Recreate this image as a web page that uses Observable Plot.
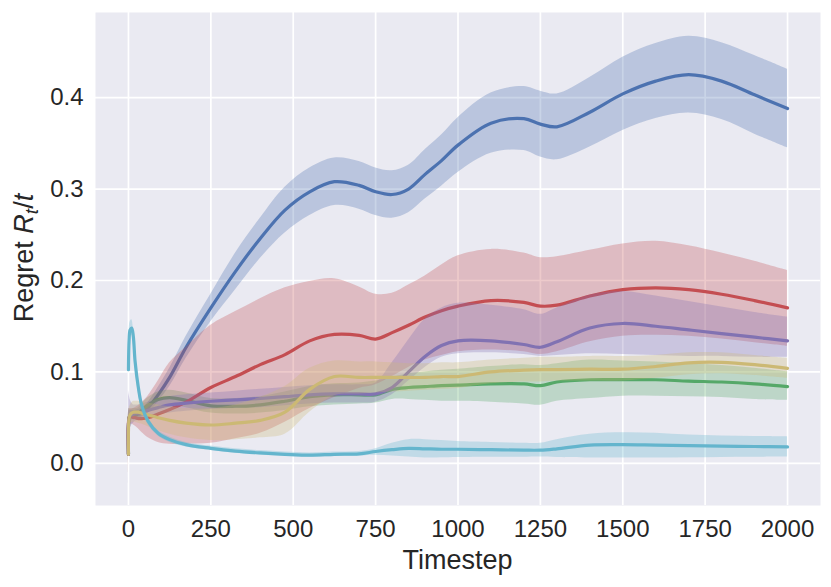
<!DOCTYPE html>
<html><head><meta charset="utf-8">
<script src="https://cdn.jsdelivr.net/npm/d3@7"></script>
<script src="https://cdn.jsdelivr.net/npm/@observablehq/plot@0.6"></script>
<style>
body{margin:0;background:#fff}
svg{font-family:"Liberation Sans",Arial,sans-serif}
</style>
</head><body><div id="chart"></div>
<script>
const timesteps = [0,2,5,10,15,20,30,40,60,90,125,175,250,325,400,475,550,625,700,750,800,850,900,950,1000,1100,1200,1250,1300,1400,1500,1600,1700,1800,1900,2000];

const blueMean = [0.010,0.050,0.052,0.053,0.053,0.053,0.054,0.055,0.061,0.075,0.094,0.127,0.170,0.210,0.246,0.277,0.297,0.308,0.304,0.297,0.294,0.300,0.316,0.331,0.348,0.372,0.377,0.371,0.368,0.384,0.404,0.418,0.425,0.418,0.403,0.388];
const blueLo   = [0.000,0.042,0.046,0.048,0.048,0.048,0.049,0.050,0.055,0.067,0.084,0.115,0.155,0.190,0.224,0.252,0.271,0.282,0.278,0.271,0.268,0.274,0.289,0.303,0.318,0.339,0.342,0.335,0.332,0.346,0.364,0.377,0.383,0.376,0.360,0.345];
const blueHi   = [0.020,0.058,0.058,0.058,0.058,0.058,0.059,0.060,0.067,0.083,0.104,0.139,0.185,0.230,0.268,0.302,0.323,0.334,0.330,0.323,0.320,0.326,0.343,0.359,0.378,0.405,0.412,0.407,0.404,0.422,0.444,0.459,0.467,0.460,0.446,0.431];

const greenMean = [0.010,0.050,0.052,0.053,0.054,0.054,0.055,0.058,0.064,0.070,0.072,0.069,0.063,0.0625,0.064,0.068,0.073,0.075,0.075,0.075,0.081,0.083,0.084,0.085,0.0855,0.087,0.087,0.085,0.089,0.0915,0.0916,0.0915,0.090,0.089,0.087,0.084];
const greenLo   = [0.000,0.040,0.045,0.047,0.048,0.048,0.049,0.051,0.056,0.062,0.064,0.061,0.055,0.054,0.055,0.058,0.062,0.064,0.065,0.066,0.070,0.070,0.069,0.068,0.068,0.067,0.065,0.0636,0.068,0.071,0.0735,0.0735,0.073,0.072,0.070,0.069];
const greenHi   = [0.020,0.060,0.059,0.059,0.060,0.060,0.061,0.065,0.072,0.078,0.080,0.077,0.071,0.071,0.073,0.078,0.084,0.087,0.088,0.090,0.094,0.098,0.100,0.102,0.103,0.106,0.108,0.107,0.109,0.113,0.112,0.111,0.109,0.107,0.104,0.100];

const redMean = [0.010,0.050,0.051,0.051,0.050,0.050,0.049,0.049,0.050,0.054,0.059,0.067,0.083,0.095,0.108,0.119,0.134,0.141,0.140,0.136,0.143,0.151,0.160,0.167,0.172,0.178,0.176,0.172,0.173,0.183,0.190,0.192,0.190,0.185,0.178,0.170];
const redLo   = [-0.010,0.040,0.042,0.043,0.042,0.041,0.038,0.034,0.028,0.023,0.021,0.021,0.022,0.027,0.033,0.045,0.060,0.072,0.082,0.086,0.095,0.105,0.113,0.118,0.122,0.124,0.122,0.119,0.122,0.133,0.139,0.140,0.139,0.136,0.132,0.128];
const redHi   = [0.030,0.060,0.060,0.060,0.060,0.061,0.063,0.066,0.074,0.090,0.110,0.127,0.151,0.166,0.180,0.192,0.199,0.202,0.193,0.185,0.186,0.195,0.205,0.217,0.227,0.234,0.230,0.225,0.226,0.233,0.240,0.243,0.238,0.230,0.221,0.211];

const purpleMean = [0.010,0.050,0.052,0.053,0.054,0.055,0.055,0.056,0.058,0.061,0.064,0.066,0.068,0.0695,0.071,0.073,0.075,0.076,0.076,0.076,0.083,0.100,0.117,0.129,0.134,0.134,0.130,0.127,0.133,0.148,0.153,0.150,0.146,0.142,0.138,0.134];
const purpleLo   = [-0.022,0.030,0.038,0.042,0.044,0.046,0.047,0.048,0.050,0.053,0.055,0.057,0.059,0.060,0.061,0.063,0.065,0.066,0.066,0.067,0.075,0.090,0.105,0.116,0.120,0.121,0.119,0.117,0.118,0.120,0.119,0.118,0.117,0.117,0.116,0.116];
const purpleHi   = [0.080,0.075,0.070,0.066,0.064,0.064,0.064,0.065,0.067,0.070,0.073,0.075,0.077,0.079,0.081,0.083,0.085,0.086,0.086,0.088,0.110,0.135,0.158,0.170,0.175,0.173,0.168,0.163,0.170,0.184,0.188,0.183,0.177,0.171,0.165,0.160];

const yellowMean = [0.010,0.050,0.053,0.055,0.056,0.056,0.056,0.055,0.053,0.050,0.047,0.044,0.042,0.044,0.047,0.056,0.081,0.095,0.094,0.094,0.094,0.094,0.094,0.095,0.095,0.100,0.102,0.1025,0.1025,0.103,0.103,0.106,0.110,0.1105,0.108,0.104];
const yellowLo   = [-0.010,0.040,0.043,0.045,0.045,0.045,0.044,0.043,0.040,0.036,0.032,0.028,0.025,0.026,0.028,0.032,0.056,0.074,0.076,0.077,0.078,0.079,0.080,0.081,0.082,0.087,0.089,0.089,0.090,0.090,0.090,0.093,0.097,0.098,0.096,0.093];
const yellowHi   = [0.030,0.060,0.063,0.066,0.068,0.068,0.068,0.067,0.066,0.064,0.062,0.060,0.060,0.064,0.072,0.084,0.104,0.112,0.111,0.111,0.110,0.109,0.109,0.110,0.110,0.113,0.115,0.116,0.116,0.117,0.117,0.118,0.121,0.121,0.118,0.115];

const cyanMean = [0.1025,0.135,0.146,0.148,0.138,0.112,0.083,0.064,0.046,0.033,0.026,0.0205,0.0165,0.0135,0.0115,0.010,0.009,0.010,0.0105,0.013,0.015,0.0165,0.016,0.0155,0.0155,0.015,0.0145,0.0145,0.016,0.020,0.0205,0.020,0.0195,0.019,0.0185,0.018];
const cyanLo   = [0.099,0.127,0.138,0.140,0.129,0.104,0.077,0.059,0.042,0.030,0.023,0.018,0.014,0.011,0.009,0.0078,0.0068,0.0075,0.008,0.009,0.008,0.007,0.006,0.0062,0.0065,0.0068,0.0068,0.007,0.0065,0.006,0.0058,0.006,0.0063,0.0066,0.0068,0.007];
const cyanHi   = [0.106,0.143,0.155,0.157,0.147,0.120,0.089,0.069,0.050,0.036,0.029,0.023,0.019,0.016,0.014,0.0125,0.0115,0.0125,0.013,0.016,0.022,0.026,0.026,0.025,0.024,0.023,0.022,0.022,0.026,0.032,0.0335,0.033,0.031,0.030,0.0295,0.029];

const xTicks = [0,250,500,750,1000,1250,1500,1750,2000];
const yTicks = [0.0,0.1,0.2,0.3,0.4];

const series = [
  {color:"#4C72B0", mean:blueMean, lo:blueLo, hi:blueHi},
  {color:"#55A868", mean:greenMean, lo:greenLo, hi:greenHi},
  {color:"#C44E52", mean:redMean, lo:redLo, hi:redHi},
  {color:"#8172B2", mean:purpleMean, lo:purpleLo, hi:purpleHi},
  {color:"#CCB974", mean:yellowMean, lo:yellowLo, hi:yellowHi},
  {color:"#64B5CD", mean:cyanMean, lo:cyanLo, hi:cyanHi}
];

const marks = [
  Plot.frame({fill:"#EAEAF2", stroke:"none"}),
  Plot.gridX(xTicks, {stroke:"white", strokeOpacity:1, strokeWidth:1.7}),
  Plot.gridY(yTicks, {stroke:"white", strokeOpacity:1, strokeWidth:1.7})
];
for (const s of series) {
  const rows = timesteps.map((t,i)=>({t, m:s.mean[i], lo:s.lo[i], hi:s.hi[i]}));
  marks.push(Plot.areaY(rows, {x:"t", y1:"lo", y2:"hi", fill:s.color, fillOpacity:0.3, curve:"catmull-rom"}));
  marks.push(Plot.lineY(rows, {x:"t", y:"m", stroke:s.color, strokeWidth:3.2, curve:"catmull-rom"}));
}
marks.push(Plot.axisX(xTicks, {tickSize:0, tickPadding:14, fontSize:24, label:null, tickFormat:d3.format("d")}));
marks.push(Plot.axisY(yTicks, {tickSize:0, tickPadding:12, fontSize:24, label:null, tickFormat:d3.format(".1f")}));

const plot = Plot.plot({
  width:831, height:587,
  marginLeft:95, marginRight:11, marginTop:12, marginBottom:82,
  style:{color:"#262626", background:"white", fontFamily:"Liberation Sans, Arial, sans-serif"},
  x:{domain:[-100,2100]},
  y:{domain:[-0.046,0.493]},
  marks
});

const svg = d3.select(plot);
svg.append("text")
  .attr("x", 457.5).attr("y", 569)
  .attr("text-anchor","middle").attr("font-size",27).attr("fill","#262626")
  .text("Timestep");
const yl = svg.append("text")
  .attr("transform","translate(33,258) rotate(-90)")
  .attr("text-anchor","middle").attr("font-size",27).attr("fill","#262626");
yl.append("tspan").text("Regret ");
yl.append("tspan").attr("font-style","italic").text("R");
yl.append("tspan").attr("font-style","italic").attr("font-size",19).attr("dy",5).text("t");
yl.append("tspan").attr("dy",-5).text("/");
yl.append("tspan").attr("font-style","italic").text("t");

document.getElementById("chart").appendChild(plot);
</script>
</body></html>
